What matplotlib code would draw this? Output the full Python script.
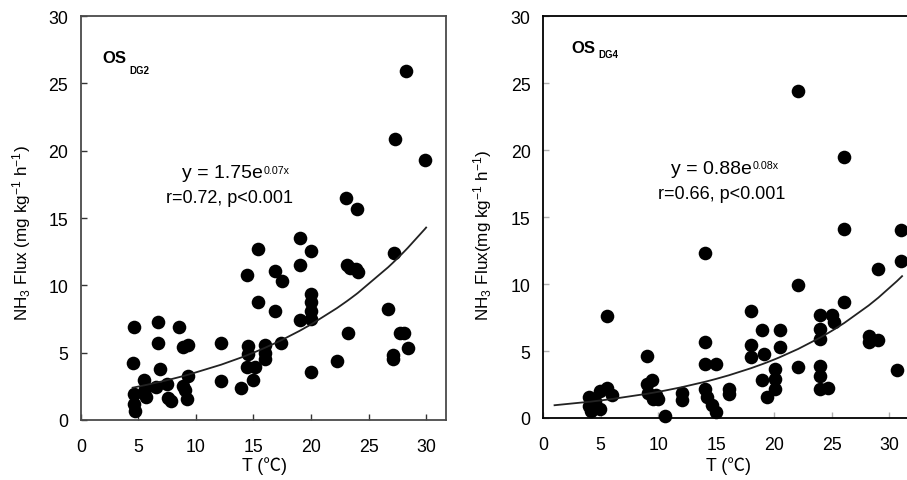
import matplotlib
matplotlib.use("Agg")
import matplotlib.pyplot as plt
import numpy as np

plt.rcParams["font.family"] = ["Liberation Sans", "Noto Sans CJK SC", "DejaVu Sans"]
plt.rcParams["mathtext.fontset"] = "custom"
plt.rcParams["mathtext.rm"] = "Liberation Sans"
plt.rcParams["mathtext.it"] = "Liberation Sans:italic"
plt.rcParams["mathtext.bf"] = "Liberation Sans:bold"

# ---- data: soil temperature (°C) vs NH3 flux (mg kg-1 h-1) ----
dg2_t = [4.6, 4.5, 4.6, 4.6, 4.7, 5.5, 5.6, 5.7, 6.5, 6.7, 6.7, 6.9,
         7.45, 7.6, 7.8, 8.5, 8.9, 9.35, 8.9, 9.05, 9.2, 9.35, 12.2, 12.2,
         13.9, 14.4, 14.5, 14.5, 14.4, 15.1, 15.0, 15.4, 15.4, 16.0, 16.0, 16.0,
         16.9, 16.9, 17.5, 17.4, 19.0, 19.0, 19.0, 20.0, 20.0, 20.0, 20.0, 20.0,
         20.0, 22.25, 23.05, 24.0, 23.1, 23.4, 23.9, 24.05, 23.2, 26.7, 27.1, 27.1,
         27.25, 27.3, 27.75, 28.1, 28.4, 28.25, 29.9]
dg2_flux = [6.9, 4.2, 1.9, 1.2, 0.7, 3.0, 2.3, 1.7, 2.45, 7.25, 5.75, 3.8,
            2.7, 1.6, 1.4, 6.9, 5.4, 5.6, 2.55, 2.2, 1.55, 3.3, 5.75, 2.9,
            2.35, 10.75, 5.5, 4.9, 3.9, 3.9, 3.0, 12.7, 8.75, 5.6, 5.0, 4.5,
            11.1, 8.1, 10.35, 5.75, 13.55, 11.5, 7.45, 12.55, 9.35, 8.75, 8.1, 7.5,
            3.6, 4.4, 16.5, 15.7, 11.5, 11.3, 11.25, 11.0, 6.45, 8.25, 4.85, 4.55,
            12.4, 20.85, 6.45, 6.45, 5.35, 25.9, 19.3]

dg4_t = [4.0, 4.0, 4.2, 4.5, 4.9, 4.9, 5.5, 6.0, 5.5,
         9.0, 9.0, 9.4, 9.1, 9.8, 10.0, 9.5, 10.6,
         12.0, 12.0,
         14.0, 14.0, 14.0, 15.0, 14.0, 14.2, 14.6, 15.0,
         16.1, 16.1,
         18.0, 18.0, 18.0, 19.1, 19.0, 19.0, 19.4,
         20.5, 20.5, 20.1, 20.1, 20.1,
         22.1, 22.1, 22.1,
         24.0, 25.0, 25.2, 24.0, 24.0, 24.0, 24.0, 24.0, 24.7,
         26.1, 26.1, 26.1,
         28.2, 28.2, 29.05, 29.05,
         30.65, 31.0, 31.0]
dg4_flux = [1.6, 0.9, 0.55, 1.3, 2.0, 0.65, 2.25, 1.7, 7.6,
            4.65, 2.55, 2.85, 1.9, 1.7, 1.4, 1.45, 0.15,
            1.9, 1.35,
            12.3, 5.7, 4.05, 4.05, 2.2, 1.55, 1.0, 0.45,
            2.15, 1.8,
            8.0, 5.45, 4.55, 4.8, 6.6, 2.85, 1.55,
            6.6, 5.3, 3.65, 2.9, 2.2,
            24.4, 9.9, 3.8,
            7.7, 7.7, 7.15, 6.65, 5.9, 3.9, 3.15, 2.2, 2.25,
            19.5, 14.1, 8.7,
            6.15, 5.65, 5.8, 11.1,
            3.55, 14.05, 11.7]

# exponential fits y = a * exp(b * T)
dg2_a, dg2_b, dg2_r = 1.75, 0.07, 0.72
dg4_a, dg4_b, dg4_r = 0.88, 0.08, 0.66
dg2_fit_range = (4.5, 30.0)
dg4_fit_range = (1.0, 31.1)

ticks = [0, 5, 10, 15, 20, 25, 30]

W, H = 907, 481
fig = plt.figure(figsize=(W / 100, H / 100), dpi=100)


def axes_px(x0, x1, ytop, ybot):
    return fig.add_axes([x0 / W, (H - ybot) / H, (x1 - x0) / W, (ybot - ytop) / H])


def draw_panel(ax, t, flux, a, b, r, fit_range, sub, spine_color, tick_color,
               os_pos, sub_pos, eq_pos, sup_pos, r_pos):
    ax.set_xlim(0, 31.7)
    ax.set_ylim(0, 30)
    ax.set_xticks(ticks)
    ax.set_yticks(ticks)
    for s in ax.spines.values():
        s.set_color(spine_color)
        s.set_linewidth(1.3)
    ax.tick_params(axis="both", direction="in", length=4, width=1,
                   color=tick_color, labelsize=12.8)
    ax.tick_params(axis="x", pad=13)
    ax.tick_params(axis="y", pad=9)

    ax.plot(t, flux, "o", color="black", markersize=9.8, markeredgewidth=0,
            clip_on=False, zorder=3)

    lo, hi = fit_range
    tx = np.unique(np.concatenate([[lo, hi], [v for v in t if lo < v < hi]]))
    ax.plot(tx, a * np.exp(b * tx), color="#222222", linewidth=1.3, zorder=4)

    ax.text(*os_pos, "OS", fontsize=12, fontweight="bold", ha="left", va="baseline")
    ax.text(*sub_pos, sub, fontsize=7.0, fontweight="bold", ha="left", va="baseline")
    ax.text(*eq_pos, f"y = {a:.2f}e", fontsize=14, ha="right", va="baseline")
    ax.text(*sup_pos, f"{b:.2f}x", fontsize=7.7, ha="left", va="baseline")
    ax.text(*r_pos, f"r={r:.2f}, p<0.001", fontsize=13, ha="center", va="baseline")


ax1 = axes_px(80.8, 445.7, 17.0, 421.0)
draw_panel(ax1, dg2_t, dg2_flux, dg2_a, dg2_b, dg2_r, dg2_fit_range, "DG2",
           "#4a4a4a", "#333333",
           os_pos=(1.85, 26.55), sub_pos=(4.25, 25.75),
           eq_pos=(15.84, 18.02), sup_pos=(15.9, 18.35), r_pos=(12.9, 16.2))

ax2 = axes_px(543.0, 909.0, 17.3, 419.0)
draw_panel(ax2, dg4_t, dg4_flux, dg4_a, dg4_b, dg4_r, dg4_fit_range, "DG4",
           "black", "#b0b0b0",
           os_pos=(2.45, 27.3), sub_pos=(4.8, 26.95),
           eq_pos=(18.1, 18.3), sup_pos=(18.16, 18.7), r_pos=(15.49, 16.43))

# axis titles
ylab = "NH$_3$ Flux (mg kg$^{-1}$ h$^{-1}$)"
ylab2 = "NH$_3$ Flux(mg kg$^{-1}$ h$^{-1}$)"
fig.text(22 / W, 1 - 233 / H, ylab, rotation=90, ha="center", va="center", fontsize=12.3)
fig.text(483 / W, 1 - 236 / H, ylab2, rotation=90, ha="center", va="center", fontsize=12.3)
fig.text(265 / W, 1 - 466 / H, "T (℃)", ha="center", va="center", fontsize=12.8)
fig.text(729 / W, 1 - 466 / H, "T (℃)", ha="center", va="center", fontsize=12.8)

fig.savefig("out.png", dpi=100)
